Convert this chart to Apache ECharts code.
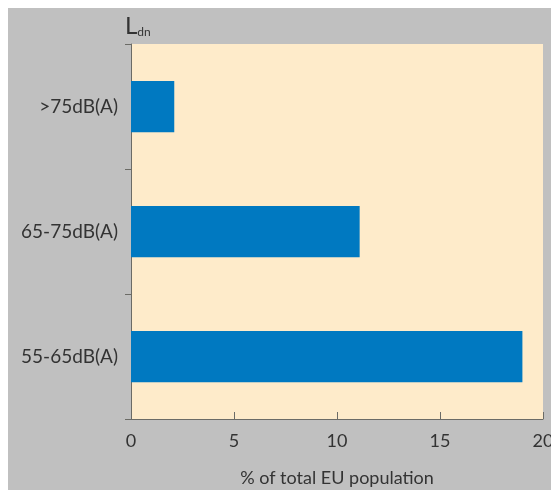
<!DOCTYPE html>
<html><head><meta charset="utf-8">
<script src="https://cdn.jsdelivr.net/npm/echarts@6/dist/echarts.min.js"></script>
<style>
html,body{margin:0;padding:0;background:#fff;overflow:hidden;}
#c{position:absolute;left:0;top:0;width:100vw;height:100vh;}
</style></head>
<body><div id="c"></div>
<script>
const categories = ['55-65dB(A)', '65-75dB(A)', '>75dB(A)'];
const values = [19.0, 11.1, 2.1];
const xTicks = [0, 20, 5];
const xName = '% of total EU population';

const chart = echarts.init(document.getElementById('c'), null, {renderer: 'canvas'});
chart.setOption({
  backgroundColor: '#c0c0c0',
  animation: false,
  textStyle: {fontFamily: 'Lato, "Open Sans", sans-serif'},
  graphic: [
    {type: 'rect', left: 0, top: 0, shape: {width: 2000, height: 8}, style: {fill: '#fff'}, z: -10},
    {type: 'rect', left: 0, top: 0, shape: {width: 8, height: 2000}, style: {fill: '#fff'}, z: -10}
  ],
  grid: {left: 131, top: 44, right: 8, bottom: 71, show: true, backgroundColor: '#feebca', borderWidth: 0,
         containLabel: false, outerBoundsMode: 'none'},
  xAxis: {
    type: 'value', min: xTicks[0], max: xTicks[1], interval: xTicks[2],
    splitLine: {show: false},
    axisLine: {show: true, lineStyle: {color: '#6b6b66', width: 1}},
    axisTick: {show: true, inside: true, length: 7, lineStyle: {color: '#6b6b66'}},
    axisLabel: {color: '#333', fontSize: 18, margin: 13},
    name: xName, nameLocation: 'middle', nameGap: 50,
    nameTextStyle: {color: '#333', fontSize: 18}
  },
  yAxis: {
    type: 'category', data: categories,
    axisLine: {show: true, lineStyle: {color: '#6b6b66', width: 1}},
    axisTick: {show: true, length: 6, lineStyle: {color: '#6b6b66'}},
    axisLabel: {color: '#333', fontSize: 19, margin: 13},
    name: '{L|L}{s|dn}', nameLocation: 'end', nameGap: 6,
    nameTextStyle: {
      align: 'left', verticalAlign: 'bottom', padding: [0, 0, 0, -6],
      rich: {
        L: {fontSize: 24, color: '#333', fontFamily: 'Lato, sans-serif', verticalAlign: 'bottom'},
        s: {fontSize: 12, color: '#333', fontFamily: 'Lato, sans-serif', verticalAlign: 'bottom'}
      }
    }
  },
  series: [{
    type: 'bar', data: values, barWidth: '41%',
    itemStyle: {color: '#0079c1'}
  }]
});
</script></body></html>
